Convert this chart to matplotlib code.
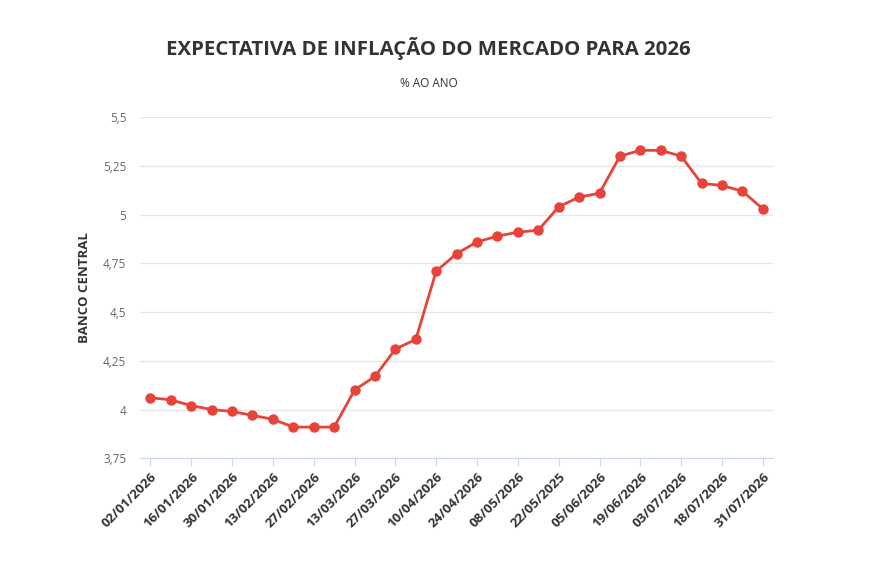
import matplotlib.pyplot as plt

plt.rcParams['font.family'] = ['Open Sans', 'DejaVu Sans']

# 31 observacoes; so as datas pares aparecem no eixo
valores = [4.06, 4.05, 4.02, 4.00, 3.99, 3.97, 3.95, 3.91, 3.91, 3.91,
           4.10, 4.17, 4.31, 4.36, 4.71, 4.80, 4.86, 4.89, 4.91, 4.92,
           5.04, 5.09, 5.11, 5.30, 5.33, 5.33, 5.30, 5.16, 5.15, 5.12, 5.03]
datas = ['02/01/2026', '16/01/2026', '30/01/2026', '13/02/2026', '27/02/2026',
         '13/03/2026', '27/03/2026', '10/04/2026', '24/04/2026', '08/05/2026',
         '22/05/2025', '05/06/2026', '19/06/2026', '03/07/2026', '18/07/2026',
         '31/07/2026']
y_ticks = [3.75, 4, 4.25, 4.5, 4.75, 5, 5.25, 5.5]
y_labels = ['3,75', '4', '4,25', '4,5', '4,75', '5', '5,25', '5,5']

fig = plt.figure(figsize=(8.71, 5.86), dpi=100)
ax = fig.add_axes([0.161, 0.218, 0.7265, 0.582])

x = list(range(len(valores)))
ax.plot(x, valores, color='#e8433a', linewidth=2, marker='o',
        markersize=6.5, zorder=3)

ax.set_xlim(-0.5, len(valores) - 0.5)
ax.set_ylim(3.75, 5.5)
ax.set_yticks(y_ticks)
ax.set_yticklabels(y_labels, color='#666666', fontsize=8.5)
ax.set_xticks(x[::2])
ax.set_xticklabels(datas, rotation=45, ha='right', rotation_mode='anchor',
                   fontsize=9.5, fontweight='bold', color='#333333')

ax.grid(axis='y', color='#e6e6e6', linewidth=1)
ax.set_axisbelow(True)
for s in ['top', 'right', 'left']:
    ax.spines[s].set_visible(False)
ax.spines['bottom'].set_color('#ccd6eb')
ax.tick_params(axis='y', length=0, pad=10)
ax.tick_params(axis='x', length=6, color='#ccd6eb', pad=3)

ax.set_ylabel('BANCO CENTRAL', fontsize=9.5, fontweight='bold',
              color='#333333', labelpad=9)

fig.text(0.492, 0.918, 'EXPECTATIVA DE INFLAÇÃO DO MERCADO PARA 2026',
         ha='center', va='center', fontsize=14.7, fontweight='bold',
         color='#333333')
fig.text(0.492, 0.858, '% AO ANO', ha='center', va='center',
         fontsize=8.5, color='#333333')

fig.savefig('out.png', dpi=100)
